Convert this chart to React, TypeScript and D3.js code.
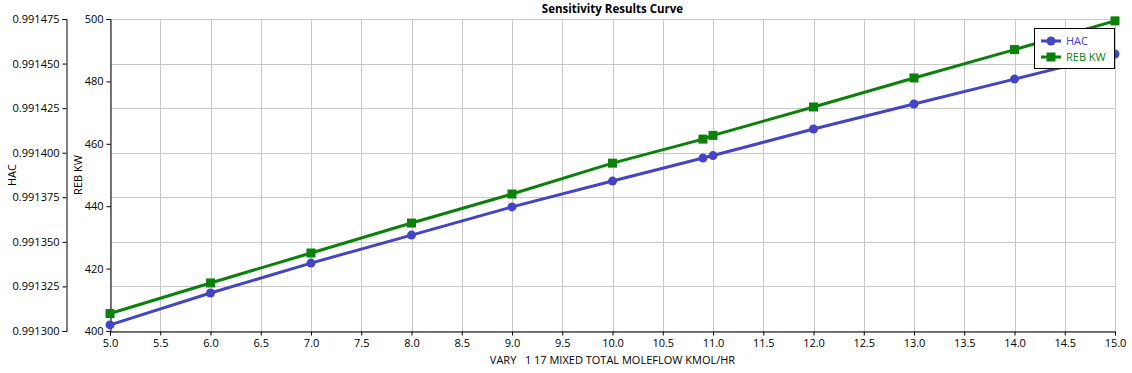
import React, { useEffect, useRef } from 'react';
import * as d3 from 'd3';

const flow = [5.0, 6.0, 7.0, 8.0, 9.0, 10.0, 10.9, 11.0, 12.0, 13.0, 14.0, 15.0];
const hac = [0.9913034, 0.9913213, 0.9913381, 0.9913538, 0.9913696, 0.9913841, 0.991397, 0.9913984, 0.9914133, 0.9914273, 0.9914413, 0.9914554];
const rebKw = [405.6, 415.4, 425.0, 434.6, 443.9, 453.8, 461.5, 462.7, 471.8, 481.1, 490.2, 499.4];
const hacTicks = [0.9913, 0.991325, 0.99135, 0.991375, 0.9914, 0.991425, 0.99145, 0.991475];
const rebTicks = [400, 420, 440, 460, 480, 500];
const xTicks = d3.range(5, 15.01, 0.5);

const W = 1132;
const H = 373;
const FONT = '"Open Sans", sans-serif';
const BLUE = '#4444c8';
const GREEN = '#0a820a';

export default function App() {
  const svgRef = useRef<SVGSVGElement>(null);

  useEffect(() => {
    const svg = d3.select(svgRef.current);
    svg.selectAll('*').remove();

    const left = 110, right = 1115, top = 19, bottom = 331;
    const hacAxisX = 66;

    const x = d3.scaleLinear().domain([5, 15]).range([left, right]);
    const yHac = d3.scaleLinear().domain([0.9913, 0.991475]).range([bottom, top]);
    const yReb = d3.scaleLinear().domain([400, 500]).range([bottom, top]);

    // grid
    const grid = svg.append('g').attr('stroke', '#c8c8c8').attr('stroke-width', 1);
    xTicks.forEach(t => {
      grid.append('line').attr('x1', Math.round(x(t)) + 0.5).attr('x2', Math.round(x(t)) + 0.5)
        .attr('y1', top).attr('y2', bottom);
    });
    hacTicks.forEach(t => {
      grid.append('line').attr('x1', left).attr('x2', right)
        .attr('y1', Math.round(yHac(t)) + 0.5).attr('y2', Math.round(yHac(t)) + 0.5);
    });

    // axes
    const styleAxis = (g: any) => {
      g.selectAll('text').attr('font-family', FONT).attr('font-size', 11).attr('fill', '#000');
      g.selectAll('line').attr('stroke', '#000');
      g.select('.domain').attr('stroke', '#000');
    };

    svg.append('g')
      .attr('transform', `translate(0,${bottom + 0.5})`)
      .call(d3.axisBottom(x).tickValues(xTicks).tickFormat(d => (d as number).toFixed(1)).tickSizeOuter(0).tickSize(4).tickPadding(4))
      .call(styleAxis);

    svg.append('g')
      .attr('transform', `translate(${left + 0.5},0)`)
      .call(d3.axisLeft(yReb).tickValues(rebTicks).tickFormat(d3.format('d')).tickSizeOuter(0).tickSize(4).tickPadding(3))
      .call(styleAxis);

    svg.append('g')
      .attr('transform', `translate(${hacAxisX + 0.5},0)`)
      .call(d3.axisLeft(yHac).tickValues(hacTicks).tickFormat(d3.format('.6f')).tickSizeOuter(0).tickSize(4).tickPadding(3))
      .call(styleAxis);

    // lines
    const lineHac = d3.line<number>().x((_, i) => x(flow[i])).y(d => yHac(d));
    const lineReb = d3.line<number>().x((_, i) => x(flow[i])).y(d => yReb(d));

    svg.append('path').datum(hac).attr('d', lineHac).attr('fill', 'none')
      .attr('stroke', BLUE).attr('stroke-width', 3);
    svg.append('path').datum(rebKw).attr('d', lineReb).attr('fill', 'none')
      .attr('stroke', GREEN).attr('stroke-width', 3);

    svg.append('g').selectAll('circle').data(hac).join('circle')
      .attr('cx', (_, i) => x(flow[i])).attr('cy', d => yHac(d)).attr('r', 4.5).attr('fill', BLUE);
    svg.append('g').selectAll('rect').data(rebKw).join('rect')
      .attr('x', (_, i) => x(flow[i]) - 4.5).attr('y', d => yReb(d) - 4.5)
      .attr('width', 9).attr('height', 9).attr('fill', GREEN);

    // title and labels
    svg.append('text').attr('x', (left + right) / 2).attr('y', 13).attr('text-anchor', 'middle')
      .attr('font-family', FONT).attr('font-size', 11.5).attr('font-weight', 'bold').text('Sensitivity Results Curve');
    svg.append('text').attr('x', (left + right) / 2).attr('y', 364).attr('text-anchor', 'middle')
      .attr('font-family', FONT).attr('font-size', 11).attr('xml:space', 'preserve')
      .text('VARY   1 17 MIXED TOTAL MOLEFLOW KMOL/HR');
    svg.append('text').attr('transform', `translate(16,${175}) rotate(-90)`).attr('text-anchor', 'middle')
      .attr('font-family', FONT).attr('font-size', 11).text('HAC');
    svg.append('text').attr('transform', `translate(82,${175}) rotate(-90)`).attr('text-anchor', 'middle')
      .attr('font-family', FONT).attr('font-size', 11).text('REB KW');

    // legend
    const lg = svg.append('g');
    lg.append('rect').attr('x', 1034.5).attr('y', 28.5).attr('width', 80).attr('height', 40)
      .attr('fill', '#fff').attr('stroke', '#000');
    const items = [
      { name: 'HAC', color: BLUE, shape: 'circle' },
      { name: 'REB KW', color: GREEN, shape: 'rect' },
    ];
    items.forEach((it, i) => {
      const cy = 41 + i * 16;
      lg.append('line').attr('x1', 1041).attr('x2', 1061).attr('y1', cy).attr('y2', cy)
        .attr('stroke', it.color).attr('stroke-width', 3);
      if (it.shape === 'circle') {
        lg.append('circle').attr('cx', 1051).attr('cy', cy).attr('r', 4.5).attr('fill', it.color);
      } else {
        lg.append('rect').attr('x', 1046.5).attr('y', cy - 4.5).attr('width', 9).attr('height', 9).attr('fill', it.color);
      }
      lg.append('text').attr('x', 1066).attr('y', cy + 4).attr('font-family', FONT).attr('font-size', 11)
        .attr('fill', it.color).text(it.name);
    });
  }, []);

  return (
    <div style={{ position: 'absolute', left: 0, top: 0 }}>
      <svg ref={svgRef} width={W} height={H} style={{ display: 'block', background: '#fff' }} />
    </div>
  );
}
